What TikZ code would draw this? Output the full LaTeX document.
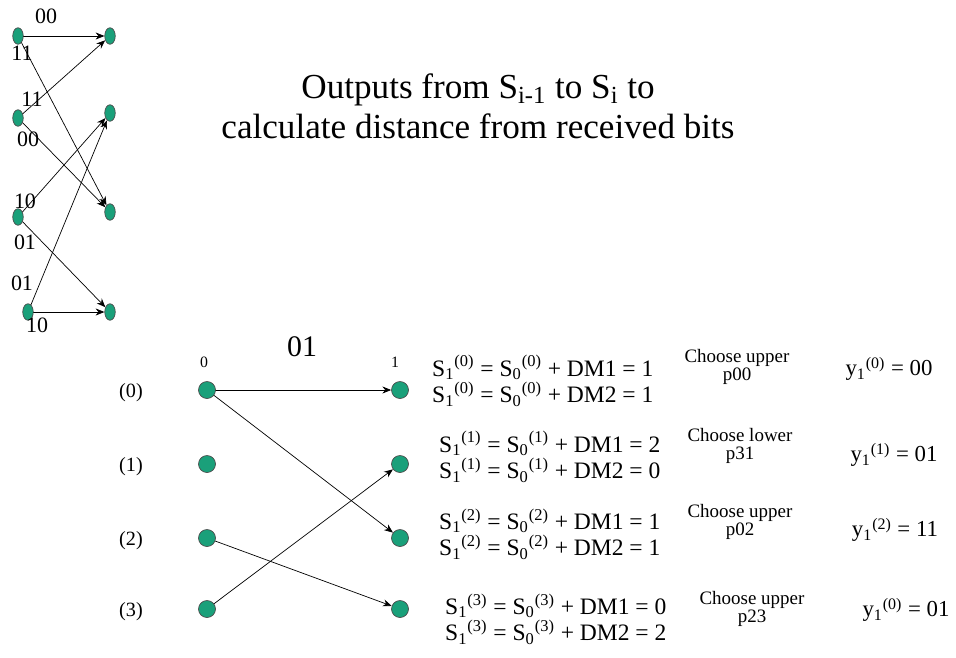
\documentclass[tikz,border=0pt]{standalone}
\usepackage{fontspec}
\setmainfont{Liberation Serif}
\usetikzlibrary{shapes.geometric, arrows.meta}
\definecolor{stategreen}{RGB}{26,160,122}
\tikzset{
	sdot/.style={ellipse, draw=black!70, fill=stategreen, inner sep=0pt, minimum width=0.21cm, minimum height=0.33cm},
	bdot/.style={circle, draw=black!70, fill=stategreen, inner sep=0pt, minimum size=0.34cm},
	eqn/.style={font=\fontsize{13.4}{13.6}\selectfont, align=left, anchor=west},
	choice/.style={font=\fontsize{10.8}{10.6}\selectfont, align=center},
	yout/.style={font=\fontsize{13}{15}\selectfont},
}
\newcommand{\Sv}[2]{S\textsubscript{#1}\textsuperscript{(#2)}}
\begin{document}
\begin{tikzpicture}[x=0.02cm, y=-0.02cm, line join=round, line cap=round, >={Stealth[length=5pt,width=4pt]}]
	\useasboundingbox (0,0) rectangle (956,657);
	% small trellis
	\foreach \n/\x/\y in {a0/18/36,a1/18/118,a2/18/217,a3/28/312,b0/110/36,b1/110/113,b2/110/212,b3/110/312}{
		\node[sdot] (\n) at (\x,\y) {};
	}
	\foreach \u/\v in {a0/b0,a0/b2,a1/b0,a1/b2,a2/b1,a2/b3,a3/b1,a3/b3}{
		\draw[->] (\u) -- (\v);
	}
	\path[font=\fontsize{12.5}{13}\selectfont]
	node at (46,16) {00}
	node at (22,53) {11}
	node at (32,99) {11}
	node at (28,139) {00}
	node at (25,201) {10}
	node at (25,242) {01}
	node at (22,283) {01}
	node at (37,325) {10};
	% title
	\node[font=\fontsize{20}{22.7}\selectfont, align=center] (title) at (478,106)
	{Outputs from S\textsubscript{i-1} to S\textsubscript{i} to\\calculate distance from received bits};
	% big trellis
	\foreach \i/\y in {0/390,1/464,2/538,3/609}{
		\node[bdot] (l\i) at (207,\y) {};
		\node[bdot] (r\i) at (400,\y) {};
		\node[font=\fontsize{11.5}{13}\selectfont] (s\i) at (131,\y+3) {(\i)};
	}
	\node[font=\fontsize{9}{10}\selectfont] (t0) at (204,362) {0};
	\node[font=\fontsize{9}{10}\selectfont] (t1) at (395,362) {1};
	\node[font=\fontsize{17}{19}\selectfont] (rx) at (302,347) {01};
	\draw[->] (l0) -- (r0);
	\draw[->] (l0) -- (r2);
	\draw[->] (l3) -- (r1);
	\draw[->] (l2) -- (r3);
	% metrics
	\node[eqn] (m0) at (426,381) {\Sv{1}{0} = \Sv{0}{0} + DM1 = 1\\\Sv{1}{0} = \Sv{0}{0} + DM2 = 1};
	\node[eqn] (m1) at (433,457) {\Sv{1}{1} = \Sv{0}{1} + DM1 = 2\\\Sv{1}{1} = \Sv{0}{1} + DM2 = 0};
	\node[eqn] (m2) at (433,534) {\Sv{1}{2} = \Sv{0}{2} + DM1 = 1\\\Sv{1}{2} = \Sv{0}{2} + DM2 = 1};
	\node[eqn] (m3) at (439,619) {\Sv{1}{3} = \Sv{0}{3} + DM1 = 0\\\Sv{1}{3} = \Sv{0}{3} + DM2 = 2};
	\node[choice] (c0) at (737,367) {Choose upper\\p00};
	\node[choice] (c1) at (740,446) {Choose lower\\p31};
	\node[choice] (c2) at (740,522) {Choose upper\\p02};
	\node[choice] (c3) at (752,609) {Choose upper\\p23};
	\node[yout] (y0) at (889,369) {y\textsubscript{1}\textsuperscript{(0)} = 00};
	\node[yout] (y1) at (894,455) {y\textsubscript{1}\textsuperscript{(1)} = 01};
	\node[yout] (y2) at (895,530) {y\textsubscript{1}\textsuperscript{(2)} = 11};
	\node[yout] (y3) at (906,610) {y\textsubscript{1}\textsuperscript{(0)} = 01};
\end{tikzpicture}
\end{document}
